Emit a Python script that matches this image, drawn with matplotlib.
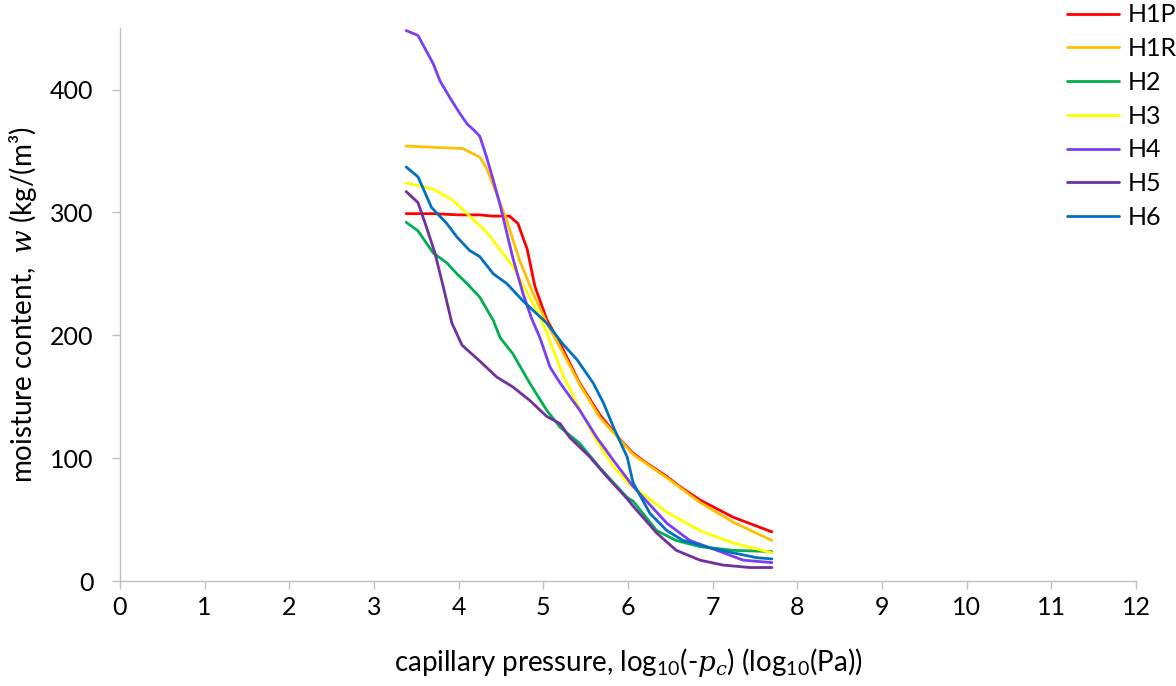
import matplotlib
matplotlib.use("Agg")
import matplotlib.pyplot as plt

plt.rcParams['font.family'] = ['Lato', 'DejaVu Sans']
plt.rcParams['mathtext.fontset'] = 'custom'
plt.rcParams['mathtext.rm'] = 'Lato'
plt.rcParams['mathtext.it'] = 'DejaVu Serif:italic'

h1p_x = [3.38, 3.7, 4.0, 4.25, 4.4, 4.6, 4.70, 4.81, 4.90, 5.04, 5.20, 5.43, 5.67, 5.91, 6.06, 6.22, 6.46, 6.61, 6.85, 7.24, 7.70]
h1p_y = [299, 299, 298, 298, 297, 297, 291, 270, 240, 213, 193, 161, 135, 115, 104, 96, 85, 77, 66, 52, 40]

h1r_x = [3.38, 3.70, 4.05, 4.25, 4.33, 4.45, 4.57, 4.72, 4.88, 5.04, 5.20, 5.43, 5.67, 6.06, 6.46, 6.85, 7.24, 7.70]
h1r_y = [354, 353, 352, 345, 336, 315, 293, 261, 234, 210, 190, 160, 133, 103, 84, 64, 48, 33]

h2_x = [3.38, 3.52, 3.70, 3.86, 3.98, 4.10, 4.25, 4.41, 4.49, 4.64, 4.84, 5.04, 5.20, 5.43, 5.67, 5.99, 6.06, 6.34, 6.57, 6.85, 7.24, 7.70]
h2_y = [292, 285, 267, 259, 250, 242, 231, 212, 198, 185, 161, 139, 125, 112, 92, 68, 65, 41, 33, 28, 25, 24]

h3_x = [3.38, 3.70, 3.93, 4.10, 4.33, 4.52, 4.64, 4.80, 4.96, 5.04, 5.23, 5.43, 5.63, 5.83, 6.02, 6.06, 6.46, 6.85, 7.24, 7.70]
h3_y = [324, 319, 310, 299, 284, 267, 256, 236, 215, 202, 168, 140, 114, 93, 78, 77, 56, 41, 31, 23]

h4_x = [3.38, 3.52, 3.70, 3.78, 3.90, 4.02, 4.10, 4.18, 4.25, 4.33, 4.41, 4.49, 4.57, 4.64, 4.76, 4.86, 4.96, 5.08, 5.20, 5.43, 5.63, 5.83, 6.06, 6.46, 6.73, 7.05, 7.36, 7.70]
h4_y = [448, 444, 421, 407, 393, 380, 372, 367, 362, 345, 326, 306, 283, 263, 234, 214, 198, 174, 161, 139, 117, 98, 77, 47, 33, 25, 17, 15]

h5_x = [3.38, 3.52, 3.62, 3.72, 3.82, 3.92, 4.04, 4.25, 4.45, 4.64, 4.84, 5.04, 5.20, 5.31, 5.55, 5.75, 5.99, 6.06, 6.34, 6.57, 6.85, 7.12, 7.44, 7.70]
h5_y = [317, 308, 288, 267, 239, 210, 192, 179, 166, 158, 147, 134, 128, 117, 101, 85, 67, 61, 39, 25, 17, 13, 11, 11]

h6_x = [3.38, 3.52, 3.68, 3.86, 3.98, 4.13, 4.25, 4.41, 4.57, 4.76, 5.04, 5.23, 5.40, 5.59, 5.71, 5.83, 5.99, 6.06, 6.26, 6.46, 6.65, 6.97, 7.24, 7.52, 7.70]
h6_y = [337, 329, 304, 291, 280, 269, 264, 250, 242, 228, 210, 193, 180, 161, 145, 125, 101, 80, 55, 41, 33, 27, 23, 19, 18]

series_names = ["H1P", "H1R", "H2", "H3", "H4", "H5", "H6"]
series_x = [h1p_x, h1r_x, h2_x, h3_x, h4_x, h5_x, h6_x]
series_y = [h1p_y, h1r_y, h2_y, h3_y, h4_y, h5_y, h6_y]
colors = ["#FF0000", "#FFC000", "#00B050", "#FFFF00", "#7B3DF5", "#7030A0", "#0070C0"]

x_ticks = list(range(0, 13))
y_ticks = [0, 100, 200, 300, 400]

fig = plt.figure(figsize=(11.76, 6.86), dpi=100)
ax = fig.add_axes([0.102, 0.153, 0.864, 0.806])

for name, xs, ys, c in zip(series_names, series_x, series_y, colors):
    ax.plot(xs, ys, color=c, lw=2.0, label=name, solid_capstyle='round')

ax.set_xlim(0, 12)
ax.set_ylim(0, 450)
ax.set_xticks(x_ticks)
ax.set_yticks(y_ticks)
ax.tick_params(axis='both', labelsize=18, color='#BFBFBF', length=6, width=1, direction='out')
ax.tick_params(axis='x', pad=5)
ax.tick_params(axis='y', pad=13)
for s in ['top', 'right']:
    ax.spines[s].set_visible(False)
for s in ['left', 'bottom']:
    ax.spines[s].set_color('#BFBFBF')
    ax.spines[s].set_linewidth(1)

ax.set_xlabel(r"capillary pressure, log$_{10}$(-$p_c$) (log$_{10}$(Pa))", fontsize=20, labelpad=19)
ax.set_ylabel(r"moisture content,  $w$ (kg/(m³)", fontsize=20, labelpad=8)

leg = ax.legend(loc='upper left', bbox_to_anchor=(0.922, 1.063), frameon=False, fontsize=18,
                handlelength=2.1, handletextpad=0.32, labelspacing=0.43, borderaxespad=0)

fig.savefig("out.png", dpi=100)
